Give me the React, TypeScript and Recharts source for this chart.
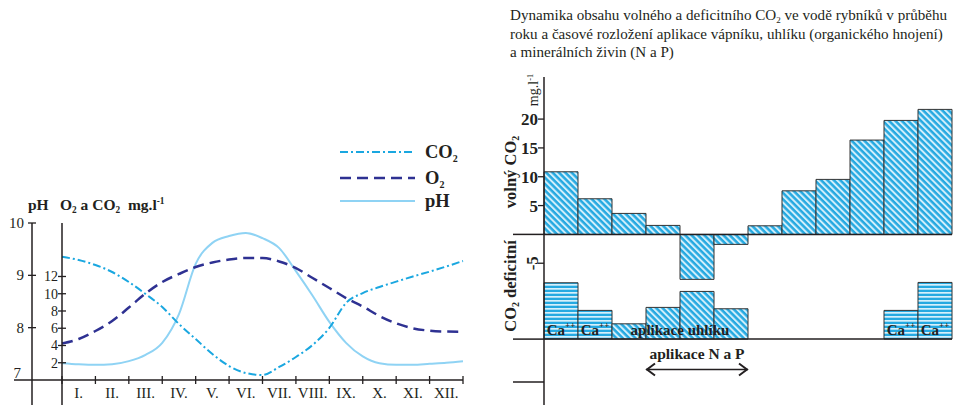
import React from 'react'
import {
  LineChart,
  Line,
  XAxis,
  YAxis,
  Legend,
  BarChart,
  Bar,
  Cell,
  LabelList,
  ReferenceLine,
  ReferenceArea,
} from 'recharts'

const SERIF = '"Liberation Serif", "Times New Roman", serif'
const INK = '#231f20'
const CO2_COLOR = '#1aa7e0'
const O2_COLOR = '#2e3192'
const PH_COLOR = '#8fd3f4'
const CO2_DASH = '8 3 2 3'
const O2_DASH = '11 6'

const monthLabels = ['I.', 'II.', 'III.', 'IV.', 'V.', 'VI.', 'VII.', 'VIII.', 'IX.', 'X.', 'XI.', 'XII.']

// left chart – curves read every half month (0 = start of I., 12 = end of XII.)
const samplePos = [0, 0.5, 1, 1.5, 2, 2.5, 3, 3.5, 4, 4.5, 5, 5.5, 6, 6.5, 7, 7.5, 8, 8.5, 9, 9.5, 10, 10.5, 11, 11.5, 12]
const co2Curve = [14.29, 13.91, 13.33, 12.52, 11.36, 9.97, 8.46, 6.49, 4.75, 3.01, 1.62, 0.81, 0.58, 1.51, 2.67, 4.06, 6.03, 8.93, 10.08, 10.78, 11.4, 12.0, 12.56, 13.16, 13.8]
const o2Curve = [4.23, 4.75, 5.68, 6.84, 8.4, 10.03, 11.36, 12.29, 13.1, 13.62, 13.97, 14.14, 14.14, 13.74, 12.98, 11.82, 10.67, 9.5, 8.52, 7.42, 6.57, 5.99, 5.72, 5.62, 5.6]
const phCurve = [7.32, 7.3, 7.29, 7.3, 7.36, 7.48, 7.71, 8.26, 9.22, 9.62, 9.75, 9.81, 9.71, 9.52, 9.08, 8.61, 8.11, 7.71, 7.45, 7.32, 7.29, 7.29, 7.31, 7.33, 7.36]
const monthEdges = [0, 1, 2, 3, 4, 5, 6, 7, 8, 9, 10, 11, 12]
const mgTicks = [0, 2, 4, 6, 8, 10, 12]
const phTicks = [7, 8, 9, 10]

// right chart – free CO2 (negative = deficit) and application doses drawn above the lower baseline
const freeCO2 = [10.86, 6.18, 3.64, 1.56, -7.8, -1.73, 1.49, 7.56, 9.54, 16.36, 19.77, 21.68]
const limeDose = [9.77, 4.98, 0, 0, 0, 0, 0, 0, 0, 0, 4.98, 9.83]
const carbonDose = [0, 0, 2.65, 5.5, 8.27, 5.26, 0, 0, 0, 0, 0, 0]
const freeTicks = [20, 15, 10, 5, -5]
const DEFICIT_BASE = -18.16
const BAR_FLOOR = -25.6
const BAR_TOP = 27.3
const NP_ARROW = -23.42
const NP_TEXT = -21.8

const HALF_MONTH_LEFT = 401 / 24
const HALF_MONTH_RIGHT = 408 / 24

const lineData = samplePos.map((pos, i) => ({ pos, co2: co2Curve[i], o2: o2Curve[i], ph: phCurve[i] }))

const barData = monthLabels.map((month, i) => {
  const amount = limeDose[i] || carbonDose[i]
  return {
    month,
    free: freeCO2[i],
    dose: amount ? [DEFICIT_BASE, DEFICIT_BASE + amount] : null,
    kind: limeDose[i] ? 'lime' : carbonDose[i] ? 'carbon' : null,
    // carbon note is centred on the III.–VI. run, i.e. on the left edge of V.
    note: limeDose[i] ? 'Ca++' : i === 4 ? 'aplikace uhlíku' : '',
  }
})

const legendRows = [
  { key: 'co2', color: CO2_COLOR, dash: CO2_DASH, width: 2, label: 'CO', sub: '2', y: 12 },
  { key: 'o2', color: O2_COLOR, dash: O2_DASH, width: 2.5, label: 'O', sub: '2', y: 38 },
  { key: 'ph', color: PH_COLOR, dash: undefined, width: 2, label: 'pH', sub: '', y: 61 },
]

const txt = { fontFamily: SERIF, fill: INK }

const LeftMonthTick = ({ x, y, payload }: any) => {
  const v = payload.value
  return (
    <g>
      <line x1={x} x2={x} y1={y - 4} y2={y + 4} stroke={INK} strokeWidth={1.3} />
      {v < 12 && (
        <text {...txt} x={x + HALF_MONTH_LEFT} y={y + 18} textAnchor="middle" fontSize={15}>
          {monthLabels[v]}
        </text>
      )}
    </g>
  )
}

const MgTick = ({ x, y, payload }: any) => {
  const v = payload.value
  if (v === 0) return <line x1={x} x2={x} y1={y} y2={y + 25} stroke={INK} strokeWidth={1.5} />
  return (
    <g>
      <line x1={x - 4} x2={x + 4} y1={y} y2={y} stroke={INK} strokeWidth={1.3} />
      <text {...txt} x={x - 4} y={y + 5} textAnchor="end" fontSize={14}>
        {v}
      </text>
    </g>
  )
}

const PhTick = ({ x, y, payload }: any) => {
  const v = payload.value
  if (v === 7) {
    return (
      <g>
        <line x1={x - 18} x2={x + 30} y1={y} y2={y} stroke={INK} strokeWidth={1.5} />
        <line x1={x} x2={x} y1={y} y2={y + 25} stroke={INK} strokeWidth={1.5} />
        <text {...txt} x={x - 11} y={y - 2} textAnchor="end" fontSize={15}>
          7
        </text>
      </g>
    )
  }
  return (
    <g>
      <line x1={x - 4} x2={x + 4} y1={y} y2={y} stroke={INK} strokeWidth={1.3} />
      <text {...txt} x={x - 8} y={y + 5} textAnchor="end" fontSize={15}>
        {v}
      </text>
    </g>
  )
}

const RightMonthTick = ({ x, y, payload, index }: any) => (
  <g>
    <line x1={x - HALF_MONTH_RIGHT} x2={x - HALF_MONTH_RIGHT} y1={y - 5} y2={y + 5} stroke={INK} strokeWidth={1.3} />
    {index === 11 && (
      <line x1={x + HALF_MONTH_RIGHT} x2={x + HALF_MONTH_RIGHT} y1={y - 5} y2={y + 5} stroke={INK} strokeWidth={1.3} />
    )}
    <text {...txt} x={x} y={y + 16} textAnchor="middle" fontSize={14}>
      {payload.value}
    </text>
  </g>
)

const FreeTick = ({ x, y, payload }: any) => {
  const v = payload.value
  if (v === 0 || v === DEFICIT_BASE || v === BAR_FLOOR) {
    return (
      <g>
        <line x1={x - 31} x2={x} y1={y} y2={y} stroke={INK} strokeWidth={1.5} />
        {v === BAR_FLOOR && <line x1={x} x2={x} y1={y} y2={y + 23} stroke={INK} strokeWidth={1.5} />}
      </g>
    )
  }
  if (v < 0) {
    return (
      <g>
        <line x1={x - 6} x2={x} y1={y} y2={y} stroke={INK} strokeWidth={1.3} />
        <text {...txt} x={x - 12} y={y} dy="0.35em" textAnchor="middle" fontSize={17} fontWeight="bold" transform={`rotate(-90 ${x - 12} ${y})`}>
          -5
        </text>
      </g>
    )
  }
  return (
    <g>
      <line x1={x - 6} x2={x} y1={y} y2={y} stroke={INK} strokeWidth={1.3} />
      <text {...txt} x={x - 6} y={y + 6} textAnchor="end" fontSize={17} fontWeight="bold">
        {v}
      </text>
    </g>
  )
}

const renderNote = (p: any) => {
  const { x, y, width, height, value } = p
  if (!value) return null
  const bottom = Math.max(y, y + height)
  if (value === 'Ca++') {
    return (
      <text {...txt} x={x + width / 2} y={bottom - 4} textAnchor="middle" fontSize={15} fontWeight="bold">
        Ca
        <tspan fontSize={9} dy={-7}>
          ++
        </tspan>
      </text>
    )
  }
  return (
    <text {...txt} x={x} y={bottom - 4} textAnchor="middle" fontSize={15} fontWeight="bold">
      {value}
    </text>
  )
}

const renderNpSpan = (p: any) => {
  const { x, y, width, height } = p
  const ay = y + height
  return (
    <g>
      <text {...txt} x={x + width / 2} y={y - 1} textAnchor="middle" fontSize={15.5} fontWeight="bold">
        aplikace N a P
      </text>
      <line x1={x} x2={x + width} y1={ay} y2={ay} stroke={INK} strokeWidth={1.6} />
      <polyline points={`${x + 9},${ay - 6} ${x + 1},${ay} ${x + 9},${ay + 6}`} fill="none" stroke={INK} strokeWidth={2} />
      <polyline points={`${x + width - 9},${ay - 6} ${x + width - 1},${ay} ${x + width - 9},${ay + 6}`} fill="none" stroke={INK} strokeWidth={2} />
    </g>
  )
}

const renderLegend = () => (
  <svg width={150} height={75}>
    {legendRows.map((r) => (
      <g key={r.key}>
        <line x1={5} x2={80} y1={r.y} y2={r.y} stroke={r.color} strokeWidth={r.width} strokeDasharray={r.dash} />
        <text {...txt} x={90} y={r.y + 6} fontSize={18.5} fontWeight="bold">
          {r.label}
          {r.sub && (
            <tspan fontSize={10} dy={4}>
              {r.sub}
            </tspan>
          )}
        </text>
      </g>
    ))}
  </svg>
)

const subStyle: React.CSSProperties = { fontSize: '0.6em', verticalAlign: '-0.3em', lineHeight: 0 }
const supStyle: React.CSSProperties = { fontSize: '0.6em', verticalAlign: '0.6em', lineHeight: 0 }

const rotated = (cx: number, cy: number, size: number, bold: boolean): React.CSSProperties => ({
  position: 'absolute',
  left: cx,
  top: cy,
  transform: 'translate(-50%, -50%) rotate(-90deg)',
  fontSize: size,
  fontWeight: bold ? 'bold' : 'normal',
  whiteSpace: 'nowrap',
  lineHeight: 1,
})

export default function App() {
  return (
    <div
      style={{
        position: 'absolute',
        left: 0,
        top: 0,
        width: 955,
        height: 405,
        background: '#fff',
        fontFamily: SERIF,
        color: INK,
        overflow: 'hidden',
      }}
    >
      <div style={{ position: 'absolute', left: 0, top: 0 }}>
        <LineChart width={490} height={405} data={lineData} margin={{ top: 223, right: 27, bottom: 0, left: 0 }}>
          <XAxis
            dataKey="pos"
            type="number"
            domain={[0, 12]}
            ticks={monthEdges}
            interval={0}
            height={25}
            tickSize={0}
            tickMargin={0}
            tickLine={false}
            axisLine={{ stroke: INK, strokeWidth: 1.5 }}
            tick={(p: any) => <LeftMonthTick {...p} />}
          />
          <YAxis
            yAxisId="mg"
            domain={[0, 18.2]}
            ticks={mgTicks}
            interval={0}
            width={30}
            tickSize={0}
            tickMargin={0}
            tickLine={false}
            axisLine={{ stroke: INK, strokeWidth: 1.5 }}
            tick={(p: any) => <MgTick {...p} />}
          />
          <YAxis
            yAxisId="ph"
            domain={[7, 10]}
            ticks={phTicks}
            interval={0}
            width={32}
            tickSize={0}
            tickMargin={0}
            tickLine={false}
            axisLine={{ stroke: INK, strokeWidth: 1.5 }}
            tick={(p: any) => <PhTick {...p} />}
          />
          <Legend
            layout="horizontal"
            verticalAlign="middle"
            align="center"
            content={renderLegend}
            wrapperStyle={{ left: 335, top: 140, width: 150, height: 75 }}
          />
          <Line
            yAxisId="ph"
            dataKey="ph"
            name="pH"
            type="monotone"
            stroke={PH_COLOR}
            strokeWidth={2}
            dot={false}
            isAnimationActive={false}
          />
          <Line
            yAxisId="mg"
            dataKey="o2"
            name="O2"
            type="monotone"
            stroke={O2_COLOR}
            strokeWidth={2.5}
            strokeDasharray={O2_DASH}
            dot={false}
            isAnimationActive={false}
          />
          <Line
            yAxisId="mg"
            dataKey="co2"
            name="CO2"
            type="monotone"
            stroke={CO2_COLOR}
            strokeWidth={2}
            strokeDasharray={CO2_DASH}
            dot={false}
            isAnimationActive={false}
          />
        </LineChart>
      </div>

      <div style={{ position: 'absolute', left: 490, top: 0 }}>
        <BarChart width={465} height={405} data={barData} margin={{ top: 77, right: 3, bottom: 0, left: 0 }} barCategoryGap={0}>
          <defs>
            <pattern id="diagHatch" width="4.5" height="4.5" patternUnits="userSpaceOnUse" patternTransform="rotate(-45)">
              <rect width="4.5" height="4.5" fill="#25a9e1" />
              <rect width="2" height="4.5" fill="#d2effb" />
            </pattern>
            <pattern id="horizHatch" width="4" height="4" patternUnits="userSpaceOnUse">
              <rect width="4" height="4" fill="#25a9e1" />
              <rect width="4" height="1.7" fill="#d5f0fb" />
            </pattern>
          </defs>
          <XAxis
            xAxisId="free"
            dataKey="month"
            interval={0}
            height={23}
            tickSize={0}
            tickMargin={0}
            tickLine={false}
            axisLine={{ stroke: INK, strokeWidth: 1.5 }}
            tick={(p: any) => <RightMonthTick {...p} />}
          />
          <XAxis xAxisId="dose" dataKey="month" hide />
          <YAxis
            domain={[BAR_FLOOR, BAR_TOP]}
            ticks={[...freeTicks, 0, DEFICIT_BASE, BAR_FLOOR]}
            interval={0}
            width={54}
            tickSize={0}
            tickMargin={0}
            tickLine={false}
            axisLine={{ stroke: INK, strokeWidth: 1.5 }}
            tick={(p: any) => <FreeTick {...p} />}
          />
          <Bar xAxisId="free" dataKey="free" fill="url(#diagHatch)" stroke="#333" strokeWidth={1} isAnimationActive={false} />
          <Bar xAxisId="dose" dataKey="dose" stroke="#333" strokeWidth={1} isAnimationActive={false}>
            {barData.map((d) => (
              <Cell key={d.month} fill={d.kind === 'lime' ? 'url(#horizHatch)' : 'url(#diagHatch)'} />
            ))}
            <LabelList dataKey="note" content={renderNote} />
          </Bar>
          <ReferenceLine xAxisId="free" y={0} stroke={INK} strokeWidth={1.5} />
          <ReferenceLine xAxisId="free" y={DEFICIT_BASE} stroke={INK} strokeWidth={1.5} />
          <ReferenceArea xAxisId="free" x1="IV." x2="VI." y1={NP_ARROW} y2={NP_TEXT} shape={renderNpSpan} />
        </BarChart>
      </div>

      {/* left chart axis headings */}
      <div style={{ position: 'absolute', left: 28, top: 197, fontSize: 15.5, fontWeight: 'bold', whiteSpace: 'nowrap', lineHeight: 1 }}>
        pH
      </div>
      <div style={{ position: 'absolute', left: 60, top: 197, fontSize: 15.5, fontWeight: 'bold', whiteSpace: 'nowrap', lineHeight: 1 }}>
        O<span style={subStyle}>2</span> a CO<span style={subStyle}>2</span>&nbsp; mg.l<span style={supStyle}>-1</span>
      </div>

      {/* right chart title */}
      <div style={{ position: 'absolute', left: 510, top: 6, fontSize: 15.1, lineHeight: '18.5px', whiteSpace: 'nowrap' }}>
        <div>
          Dynamika obsahu volného a deficitního CO<span style={subStyle}>2</span> ve vodě rybníků v průběhu
        </div>
        <div>roku a časové rozložení aplikace vápníku, uhlíku (organického hnojení)</div>
        <div>a minerálních živin (N a P)</div>
      </div>

      {/* right chart axis titles */}
      <div style={rotated(511, 172, 16.5, true)}>
        volný CO<span style={subStyle}>2</span>
      </div>
      <div style={rotated(534, 90, 14, false)}>
        mg.l<span style={supStyle}>-1</span>
      </div>
      <div style={rotated(511, 286, 16.5, true)}>
        CO<span style={subStyle}>2</span> deficitní
      </div>
    </div>
  )
}
